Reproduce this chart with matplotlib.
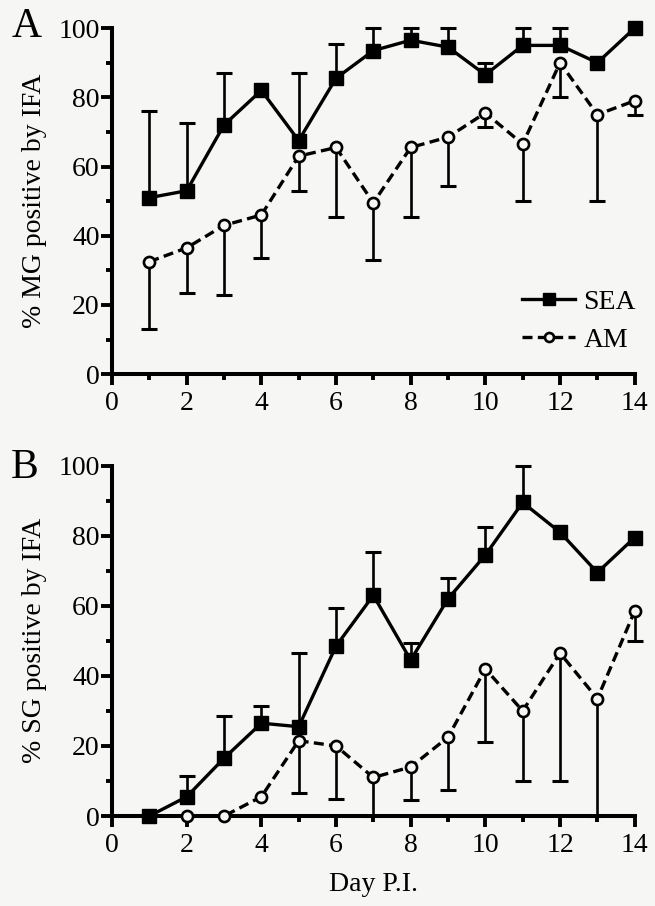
import numpy as np
import matplotlib
matplotlib.use('Agg')
import matplotlib.pyplot as plt
from matplotlib.ticker import MultipleLocator
from matplotlib.lines import Line2D

plt.rcParams['font.family'] = 'serif'
plt.rcParams['font.serif'] = ['Liberation Serif', 'DejaVu Serif']

# dias pós-infecção
dias = [1, 2, 3, 4, 5, 6, 7, 8, 9, 10, 11, 12, 13, 14]

# painel A - MG
mg_sea = [51, 53, 72, 82, 67.5, 85.5, 93.5, 96.5, 94.5, 86.5, 95, 95, 90, 100]
mg_sea_topo = [76, 72.5, 87, None, 87, 95.5, 100, 100, 100, 90, 100, 100, None, None]
mg_am = [32.5, 36.5, 43, 46, 63, 65.5, 49.5, 65.5, 68.5, 75.5, 66.5, 90, 75, 79]
mg_am_base = [13, 23.5, 23, 33.5, 53, 45.5, 33, 45.5, 54.5, 71.5, 50, 80, 50, 75]

# painel B - SG
sg_sea = [0, 5.5, 16.5, 26.5, 25.5, 48.5, 63, 44.5, 62, 74.5, 89.5, 81, 69.5, 79.5]
sg_sea_topo = [None, 11.5, 28.5, 31.5, 46.5, 59.5, 75.5, 49.5, 68, 82.5, 100, None, None, None]
sg_am = [0, 0, 0, 5.5, 21.5, 20, 11, 14, 22.5, 42, 30, 46.5, 33.5, 58.5]
sg_am_base = [None, None, None, None, 6.5, 5, 0, 4.5, 7.5, 21, 10, 10, 0, 50]

fundo = '#f6f6f4'
tracejado = (0, (3.0, 1.6))


def barras(ax, media, limite):  # barra de erro de um lado só, com traço na ponta
    xs = [d for d, l in zip(dias, limite) if l is not None]
    ms = [m for m, l in zip(media, limite) if l is not None]
    ls = [l for l in limite if l is not None]
    ax.vlines(xs, ms, ls, color='black', linewidth=1.9, zorder=2, clip_on=False)
    ax.plot(xs, ls, linestyle='none', marker='_', markersize=11, markeredgewidth=2.2,
            color='black', zorder=2, clip_on=False)


def desenhaPainel(ax, sea, seaTopo, am, amBase, ylabel, letra, ly):
    ax.set_facecolor(fundo)
    barras(ax, am, amBase)
    barras(ax, sea, seaTopo)
    ax.plot(dias, am, color='black', linestyle=tracejado, linewidth=2.4,
            marker='o', markersize=8, markerfacecolor=fundo, markeredgecolor='black',
            markeredgewidth=1.9, zorder=3, clip_on=False)
    ax.plot(dias, sea, color='black', linestyle='-', linewidth=2.4,
            marker='s', markersize=9.5, markerfacecolor='black', markeredgecolor='black',
            zorder=4, clip_on=False)

    ax.set_xlim(0, 14)
    ax.set_ylim(0, 100)
    ax.xaxis.set_major_locator(MultipleLocator(2))
    ax.xaxis.set_minor_locator(MultipleLocator(1))
    ax.yaxis.set_major_locator(MultipleLocator(20))
    ax.yaxis.set_minor_locator(MultipleLocator(10))
    ax.tick_params(which='major', direction='out', length=8, width=2.8, labelsize=20)
    ax.tick_params(which='minor', direction='out', length=4.5, width=2.8)
    ax.tick_params(axis='x', pad=4)
    ax.tick_params(axis='y', pad=1)
    for lado in ['top', 'right']:
        ax.spines[lado].set_visible(False)
    for lado in ['left', 'bottom']:
        ax.spines[lado].set_linewidth(2.9)
    ax.set_ylabel(ylabel, fontsize=20, labelpad=8)
    ax.text(-0.193, ly, letra, transform=ax.transAxes, fontsize=30, ha='left', va='center')


fig = plt.figure(figsize=(6.55, 9.06), dpi=100)
fig.patch.set_facecolor(fundo)

axA = fig.add_axes([0.171, 0.587, 0.798, 0.382])
axB = fig.add_axes([0.171, 0.0993, 0.798, 0.3867])

desenhaPainel(axA, mg_sea, mg_sea_topo, mg_am, mg_am_base, '% MG positive by IFA', 'A', 1.005)
desenhaPainel(axB, sg_sea, sg_sea_topo, sg_am, sg_am_base, '% SG positive by IFA', 'B', 0.995)

axB.set_xlabel('Day P.I.', fontsize=20, labelpad=10)

# legenda
legenda = [
    Line2D([0], [0], color='black', linestyle='-', linewidth=2.4, marker='s',
           markersize=8, markerfacecolor='black'),
    Line2D([0], [0], color='black', linestyle=tracejado, linewidth=2.4, marker='o',
           markersize=6.5, markerfacecolor=fundo, markeredgewidth=1.9),
]
axA.legend(legenda, ['SEA', 'AM'], loc='lower right', bbox_to_anchor=(1.05, -0.01),
           frameon=False, fontsize=20, handlelength=1.9, handletextpad=0.3,
           labelspacing=0.45)

fig.savefig('out.png', dpi=100, facecolor=fundo)
